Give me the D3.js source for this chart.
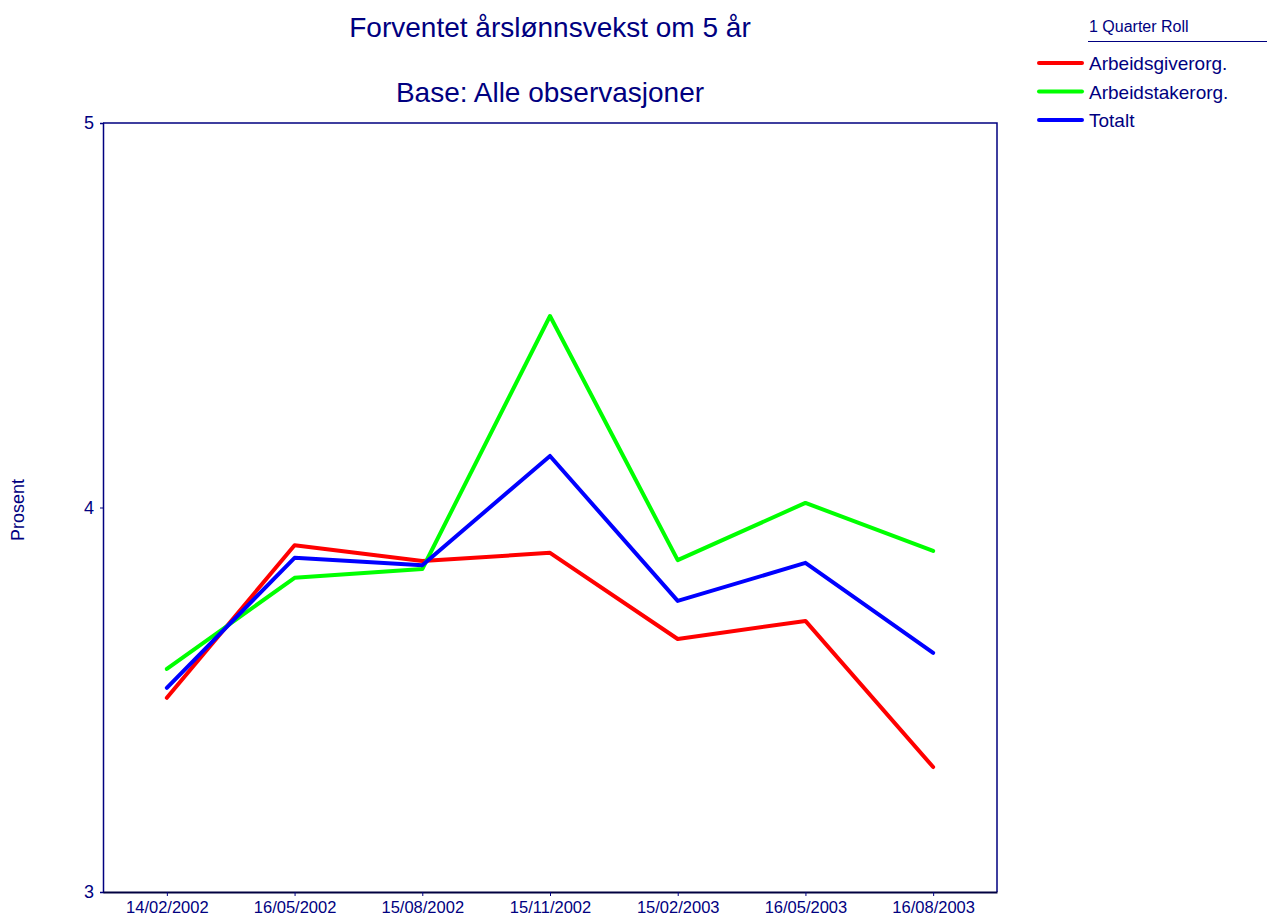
<!DOCTYPE html>
<html>
<head>
<meta charset="utf-8">
<script src="https://cdn.jsdelivr.net/npm/d3@7"></script>
<style>
  body { margin: 0; background: #fff; }
  text { font-family: "Liberation Sans", Arial, sans-serif; fill: #000080; }
</style>
</head>
<body>
<div id="chart"></div>
<script>
// data
var dates = ["14/02/2002", "16/05/2002", "15/08/2002", "15/11/2002", "15/02/2003", "16/05/2003", "16/08/2003"];
var arbeidsgiver = [3.505, 3.902, 3.861, 3.882, 3.658, 3.705, 3.325];
var arbeidstaker = [3.580, 3.817, 3.840, 4.498, 3.863, 4.012, 3.887];
var totalt = [3.531, 3.869, 3.850, 4.134, 3.757, 3.856, 3.622];
var yTicks = [3, 4, 5];

var seriesList = [
  {name: "Arbeidsgiverorg.", values: arbeidsgiver, color: "#ff0000"},
  {name: "Arbeidstakerorg.", values: arbeidstaker, color: "#00ff00"},
  {name: "Totalt", values: totalt, color: "#0000ff"}
];

var width = 1267, height = 915;
var plotLeft = 103, plotRight = 997, plotTop = 123, plotBottom = 892;

var svg = d3.select("#chart").append("svg")
  .attr("width", width)
  .attr("height", height);

var x = d3.scalePoint().domain(dates).range([plotLeft, plotRight]).padding(0.5);
var y = d3.scaleLinear().domain([3, 5]).range([plotBottom, plotTop]);

// titles
svg.append("text").attr("x", 550).attr("y", 37)
  .attr("text-anchor", "middle").style("font-size", "28px")
  .text("Forventet årslønnsvekst om 5 år");
svg.append("text").attr("x", 550).attr("y", 102)
  .attr("text-anchor", "middle").style("font-size", "28px")
  .text("Base: Alle observasjoner");

// frame top / right
svg.append("path")
  .attr("d", "M" + plotLeft + "," + plotTop + "H" + plotRight + "V" + plotBottom)
  .attr("fill", "none").attr("stroke", "#000080").attr("stroke-width", 1.5);

// y axis
var yAxis = svg.append("g").attr("transform", "translate(" + plotLeft + ",0)")
  .call(d3.axisLeft(y).tickValues(yTicks).tickSize(3).tickPadding(6).tickFormat(d3.format("d")));
yAxis.select(".domain").attr("stroke", "#000080").attr("stroke-width", 1.5);
yAxis.selectAll(".tick line").attr("stroke", "#000080");
yAxis.selectAll(".tick text").style("font-size", "18px").attr("fill", "#000080")
  .style("font-family", "'Liberation Sans', Arial, sans-serif");

// x axis
var xAxis = svg.append("g").attr("transform", "translate(0," + plotBottom + ")")
  .call(d3.axisBottom(x).tickSize(4).tickPadding(5).tickSizeOuter(0));
xAxis.select(".domain").attr("stroke", "#000040").attr("stroke-width", 2);
xAxis.selectAll(".tick line").attr("stroke", "#000080");
xAxis.selectAll(".tick text").style("font-size", "16.5px").attr("fill", "#000080")
  .style("font-family", "'Liberation Sans', Arial, sans-serif");

// y label
svg.append("text")
  .attr("transform", "translate(24," + 510 + ") rotate(-90)")
  .attr("text-anchor", "middle").style("font-size", "18px")
  .text("Prosent");

// lines
var line = d3.line()
  .x(function(d, i) { return x(dates[i]); })
  .y(function(d) { return y(d); });

svg.selectAll(".series").data(seriesList).enter()
  .append("path")
  .attr("class", "series")
  .attr("d", function(d) { return line(d.values); })
  .attr("fill", "none")
  .attr("stroke", function(d) { return d.color; })
  .attr("stroke-width", 4)
  .attr("stroke-linecap", "round")
  .attr("stroke-linejoin", "round");

// legend
svg.append("text").attr("x", 1089).attr("y", 32).style("font-size", "16px").text("1 Quarter Roll");
svg.append("line").attr("x1", 1088).attr("x2", 1267).attr("y1", 41.5).attr("y2", 41.5)
  .attr("stroke", "#000080").attr("stroke-width", 1);

var lg = svg.selectAll(".legend").data(seriesList).enter()
  .append("g").attr("class", "legend")
  .attr("transform", function(d, i) { return "translate(0," + (63 + i * 28.5) + ")"; });
lg.append("line").attr("x1", 1039).attr("x2", 1082).attr("y1", 0).attr("y2", 0)
  .attr("stroke", function(d) { return d.color; }).attr("stroke-width", 4)
  .attr("stroke-linecap", "round");
lg.append("text").attr("x", 1089).attr("y", 7).style("font-size", "19px")
  .text(function(d) { return d.name; });
</script>
</body>
</html>
